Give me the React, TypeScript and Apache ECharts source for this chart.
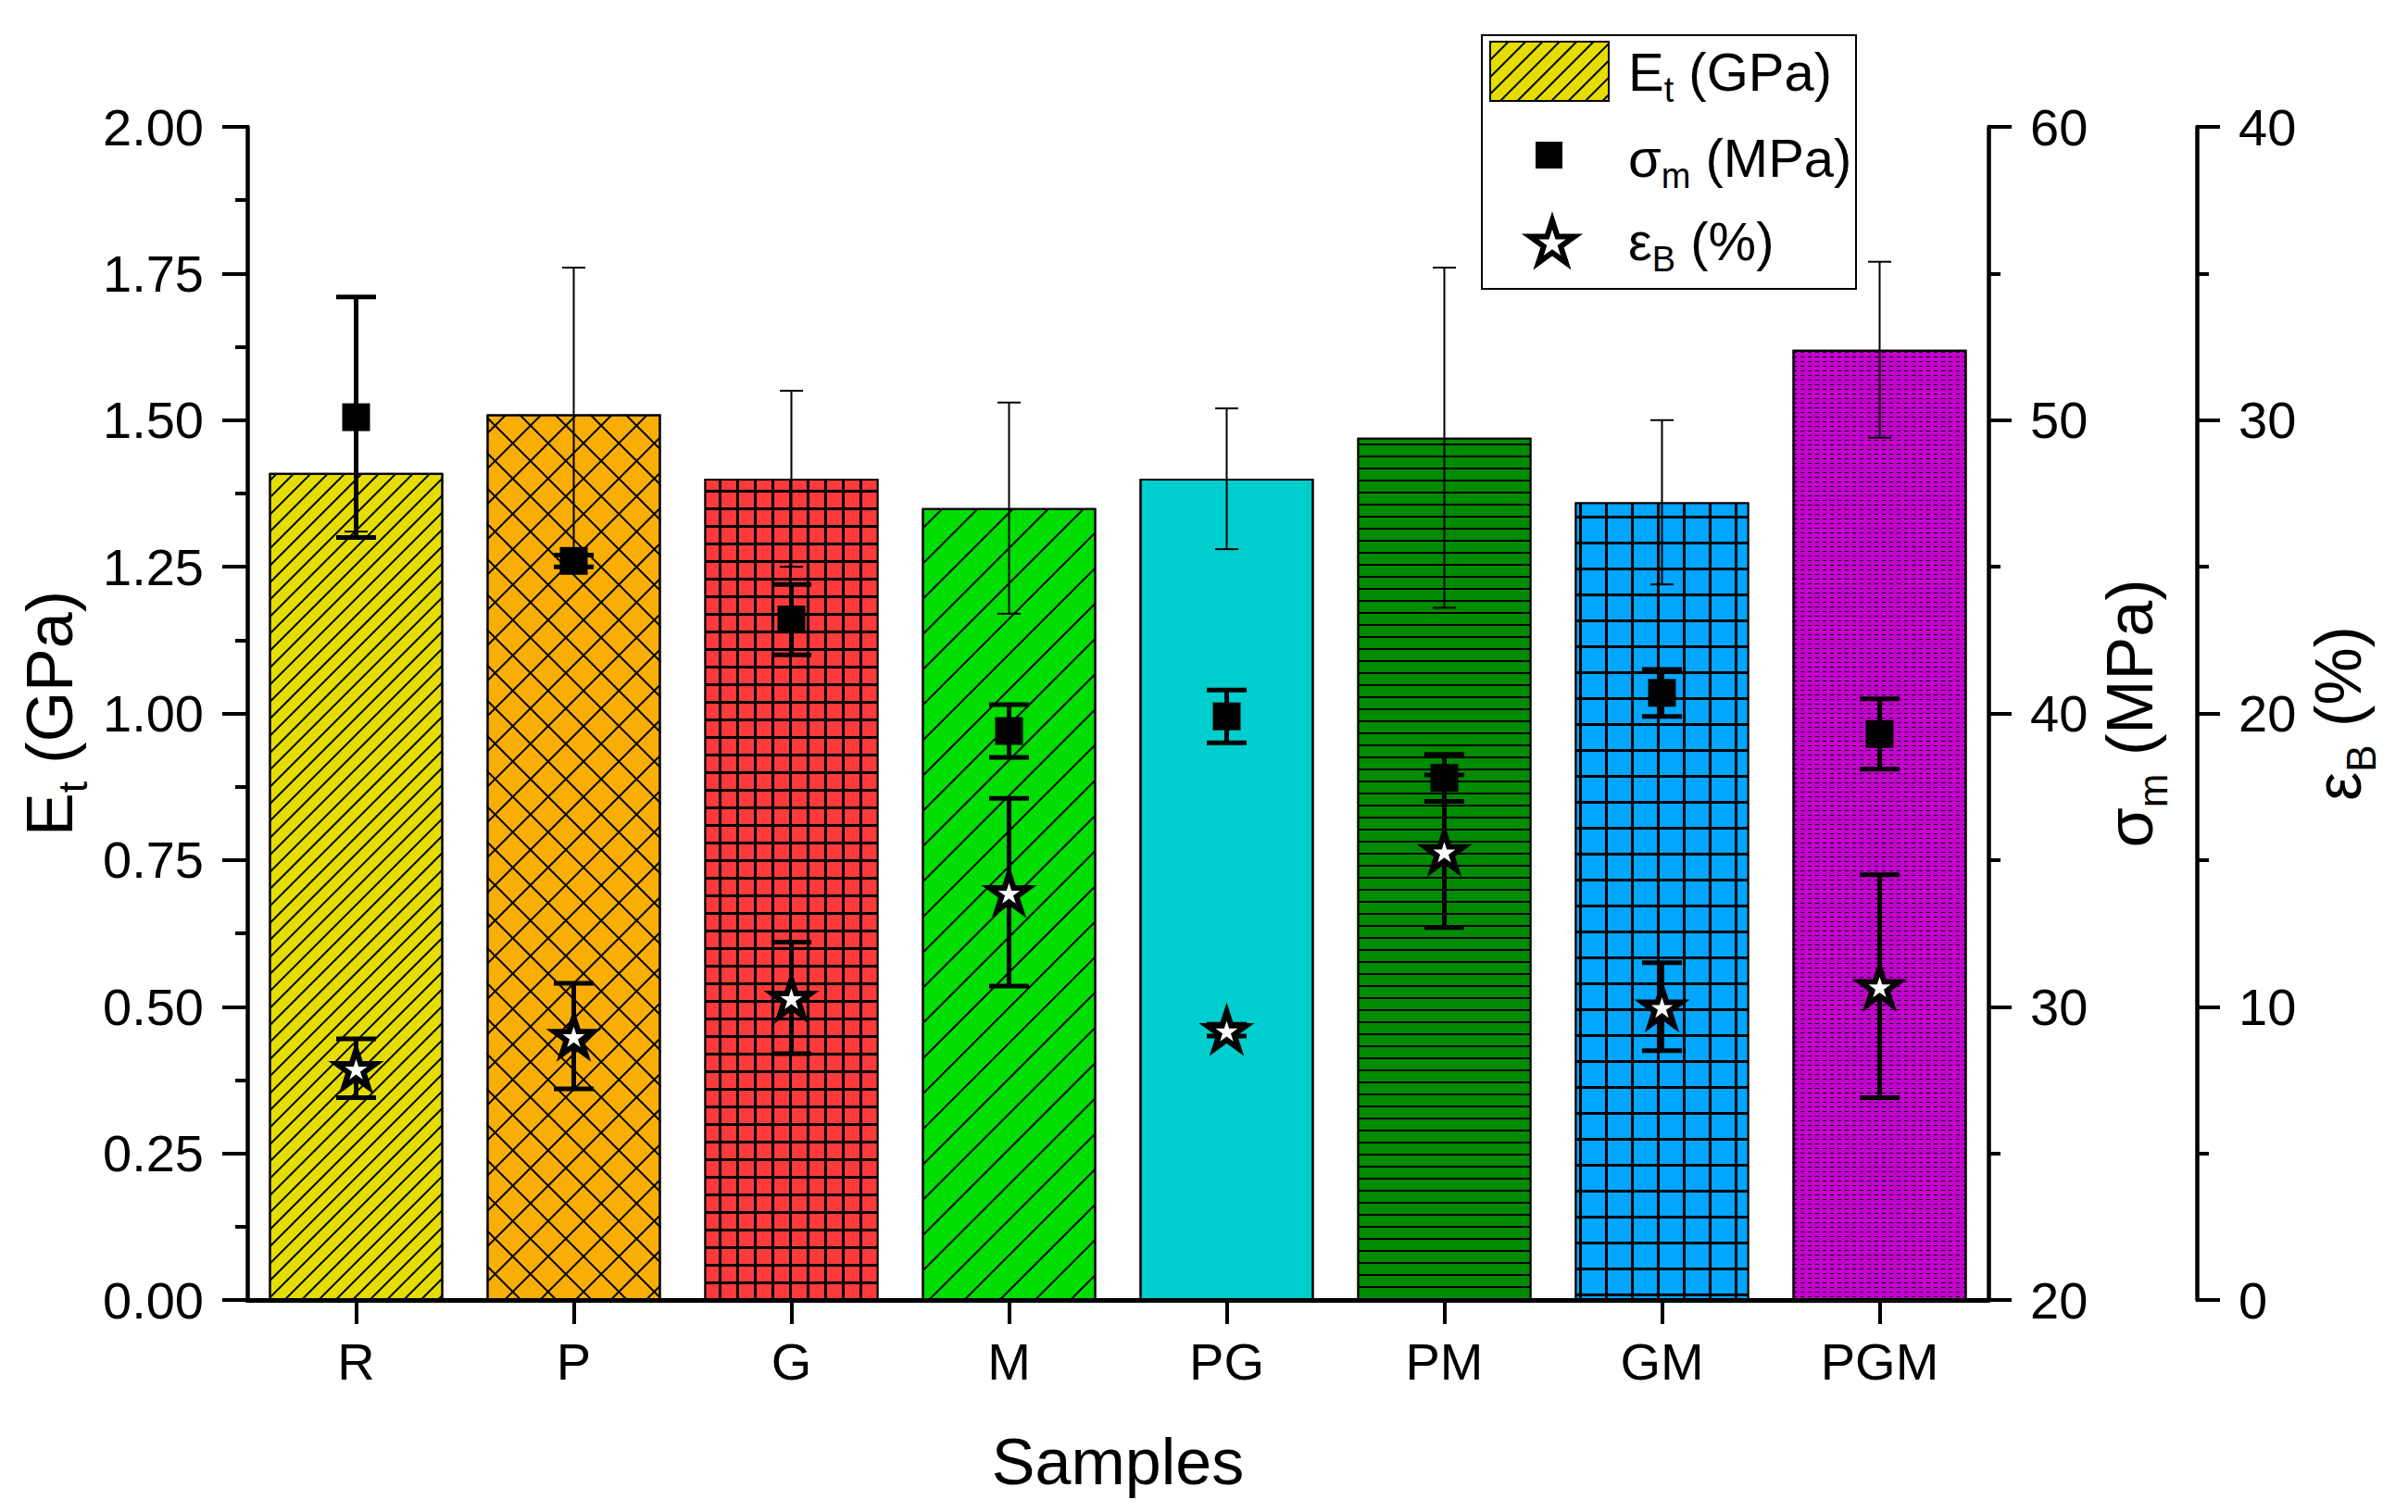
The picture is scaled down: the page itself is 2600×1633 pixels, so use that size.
import React, { useEffect, useRef } from 'react';
import * as echarts from 'echarts';

const samples = ['R', 'P', 'G', 'M', 'PG', 'PM', 'GM', 'PGM'];
const etVal = [1.41, 1.51, 1.40, 1.35, 1.40, 1.47, 1.36, 1.62];
const etErr = [0.10, 0.25, 0.15, 0.18, 0.12, 0.29, 0.14, 0.15];
const sigVal = [50.1, 45.2, 43.2, 39.4, 39.9, 37.8, 40.7, 39.3];
const sigErr = [4.1, 0.2, 1.2, 0.9, 0.9, 0.8, 0.8, 1.2];
const epsVal = [7.9, 9.0, 10.3, 13.9, 9.2, 15.3, 10.0, 10.7];
const epsErr = [1.0, 1.8, 1.9, 3.2, 0.2, 2.6, 1.5, 3.8];

const seriesNames = ['Et (GPa)', 'σm (MPa)', 'εB (%)'];
const richNames: Record<string, string> = {
  'Et (GPa)': '{a|E}{s|t}{a| (GPa)}',
  'σm (MPa)': '{a|σ}{s|m}{a| (MPa)}',
  'εB (%)': '{a|ε}{s|B}{a| (%)}',
};

const FONT = 'Liberation Sans, Arial, sans-serif';
const ROT = -Math.PI / 4;
const STAR = 'path://M50,0L61.2,34.5L97.6,34.5L68.2,55.9L79.4,90.5L50,69.1L20.6,90.5L31.8,55.9L2.4,34.5L38.8,34.5Z';

const hatch = (gap: number, rot: number) => ({
  symbol: 'rect', symbolSize: 1, dashArrayX: [1, 0], dashArrayY: [2, gap], rotation: rot, color: '#000',
});

const barStyles: any[] = [
  { color: '#E5DD00', decal: hatch(10.5, ROT) },
  { color: '#F9AE06', decal: hatch(25, ROT) },
  { color: '#000', decal: { symbol: 'rect', symbolSize: 1, dashArrayX: [16, 2.2], dashArrayY: [16, 2.2], color: '#FF3A3A' } },
  { color: '#00DD00', decal: hatch(25, ROT) },
  { color: '#00CDCD', decal: { symbol: 'rect', symbolSize: 1, dashArrayX: [1, 0], dashArrayY: [1, 0], color: 'rgba(0,0,0,0)' } },
  { color: '#000', decal: { symbol: 'rect', symbolSize: 1, dashArrayX: [1, 0], dashArrayY: [10.8, 2], color: '#008B00' } },
  { color: '#000', decal: { symbol: 'rect', symbolSize: 1, dashArrayX: [24.5, 2.6], dashArrayY: [24.5, 2.6], color: '#00A6FF' } },
  { color: '#C400CE', decal: { symbol: 'rect', symbolSize: 1, dashArrayX: [4, 4], dashArrayY: [1, 3.5], color: '#000' } },
];
const crossIdx = [1];

const errSeries = (name: string, vals: number[], errs: number[], yIdx: number, lw: number, cap: number, z: number) => ({
  type: 'custom',
  name,
  yAxisIndex: yIdx,
  z,
  silent: true,
  data: vals.map((v, i) => [i, v - errs[i], v + errs[i]]),
  encode: { x: 0, y: [1, 2] },
  renderItem: (params: any, api: any) => {
    const lo = api.coord([api.value(0), api.value(1)]);
    const hi = api.coord([api.value(0), api.value(2)]);
    const h = cap / 2;
    const st = { stroke: '#000', lineWidth: lw };
    return {
      type: 'group',
      children: [
        { type: 'line', shape: { x1: lo[0], y1: lo[1], x2: hi[0], y2: hi[1] }, style: st },
        { type: 'line', shape: { x1: lo[0] - h, y1: lo[1], x2: lo[0] + h, y2: lo[1] }, style: st },
        { type: 'line', shape: { x1: hi[0] - h, y1: hi[1], x2: hi[0] + h, y2: hi[1] }, style: st },
      ],
    };
  },
});

const legendRich = {
  a: { fontSize: 58, lineHeight: 60, verticalAlign: 'middle', fill: '#000', fontFamily: FONT },
  s: { fontSize: 38, height: 20, lineHeight: 20, verticalAlign: 'bottom', fill: '#000', fontFamily: FONT },
};
const nameRich = {
  a: { fontSize: 70, lineHeight: 72, verticalAlign: 'middle', color: '#000', fontFamily: FONT },
  s: { fontSize: 44, height: 24, lineHeight: 24, verticalAlign: 'bottom', color: '#000', fontFamily: FONT },
};

const axisCommon = (tickLen: number) => ({
  type: 'value',
  axisLine: { show: true, lineStyle: { color: '#000', width: 4.5 } },
  axisTick: { show: true, length: tickLen, lineStyle: { color: '#000', width: 4 } },
  minorTick: { show: true, splitNumber: 2, length: 13, lineStyle: { color: '#000', width: 4 } },
  splitLine: { show: false },
  minorSplitLine: { show: false },
  nameLocation: 'middle',
  nameRotate: 90,
  nameTextStyle: { rich: nameRich },
});

export default function App() {
  const ref = useRef<HTMLDivElement>(null);
  useEffect(() => {
    if (!ref.current) return;
    const chart = echarts.init(ref.current, null, { renderer: 'svg' });
    const legendBase = {
      padding: 0, selectedMode: false, orient: 'vertical',
      formatter: () => '',
      textStyle: { fontSize: 1, color: 'rgba(0,0,0,0)' },
    };
    const legendTextY = [77, 170, 260];
    const option: any = {
      animation: false,
      backgroundColor: '#fff',
      textStyle: { fontFamily: FONT, color: '#000' },
      grid: { left: 267, right: 453, top: 137, bottom: 229, containLabel: false },
      legend: [
        { ...legendBase, left: 1608, top: 44, itemWidth: 128, itemHeight: 64, data: [{ name: seriesNames[0], icon: 'rect' }], itemStyle: { borderWidth: 2, borderColor: '#000' } },
        { ...legendBase, left: 1658, top: 153, itemWidth: 29, itemHeight: 29, data: [{ name: seriesNames[1], icon: 'rect' }], itemStyle: { borderWidth: 0 } },
        { ...legendBase, left: 1649, top: 235, itemWidth: 48, itemHeight: 46, data: [{ name: seriesNames[2], icon: STAR }], itemStyle: { borderWidth: 6, borderColor: '#000', color: '#fff' } },
      ],
      graphic: [
        { type: 'rect', left: 1599, top: 37, z: 0, shape: { width: 404, height: 274 }, style: { fill: 'rgba(0,0,0,0)', stroke: '#000', lineWidth: 2 } },
        ...seriesNames.map((n, i) => ({
          type: 'text', x: 1758, y: legendTextY[i], z: 10,
          style: { text: richNames[n], rich: legendRich, verticalAlign: 'middle', align: 'left', fill: '#000', fontFamily: FONT, fontSize: 58 },
        })),
      ],
      xAxis: {
        type: 'category',
        data: samples,
        axisLine: { onZero: false, lineStyle: { color: '#000', width: 5 } },
        axisTick: { show: true, alignWithLabel: true, length: 26, lineStyle: { color: '#000', width: 4 } },
        axisLabel: { fontSize: 56, color: '#000', margin: 38, fontFamily: FONT },
        name: 'Samples',
        nameLocation: 'middle',
        nameGap: 140,
        nameTextStyle: { fontSize: 70, color: '#000', fontFamily: FONT },
      },
      yAxis: [
        {
          ...axisCommon(27), position: 'left', min: 0, max: 2, interval: 0.25,
          axisLabel: { fontSize: 56, color: '#000', margin: 47, fontFamily: FONT, formatter: (v: number) => v.toFixed(2) },
          name: richNames[seriesNames[0]], nameGap: 176,
        },
        {
          ...axisCommon(25), position: 'right', min: 20, max: 60, interval: 10,
          axisLabel: { fontSize: 56, color: '#000', margin: 45, fontFamily: FONT },
          name: richNames[seriesNames[1]], nameGap: 87,
        },
        {
          ...axisCommon(25), position: 'right', offset: 225, min: 0, max: 40, interval: 10,
          axisLabel: { fontSize: 56, color: '#000', margin: 45, fontFamily: FONT },
          name: richNames[seriesNames[2]], nameGap: 108,
        },
      ],
      series: [
        {
          type: 'bar', name: seriesNames[0], yAxisIndex: 0, z: 2, barCategoryGap: '20%', barGap: '-100%',
          itemStyle: { color: barStyles[0].color, decal: barStyles[0].decal, borderColor: '#000', borderWidth: 2 },
          data: etVal.map((v, i) => ({ value: v, itemStyle: { color: barStyles[i].color, decal: barStyles[i].decal } })),
        },
        {
          type: 'bar', name: 'cross', yAxisIndex: 0, z: 2, barCategoryGap: '20%', barGap: '-100%', silent: true,
          itemStyle: { color: 'rgba(0,0,0,0)', borderWidth: 0, decal: hatch(25, -ROT) },
          data: etVal.map((v, i) => (crossIdx.includes(i) ? v : '-')),
        },
        errSeries('etErr', etVal, etErr, 0, 2, 25, 3),
        errSeries('sigErr', sigVal, sigErr, 1, 5, 43, 4),
        {
          type: 'scatter', name: seriesNames[1], yAxisIndex: 1, z: 5, symbol: 'rect', symbolSize: 30,
          itemStyle: { color: '#000', opacity: 1 },
          data: sigVal.map((v, i) => [i, v]),
        },
        errSeries('epsErr', epsVal, epsErr, 2, 5, 43, 6),
        {
          type: 'scatter', name: seriesNames[2], yAxisIndex: 2, z: 7, symbol: STAR, symbolSize: [42, 40],
          itemStyle: { color: '#fff', borderColor: '#000', borderWidth: 6, opacity: 1 },
          data: epsVal.map((v, i) => [i, v]),
        },
      ],
    };
    chart.setOption(option);
    return () => chart.dispose();
  }, []);
  return <div ref={ref} style={{ position: 'absolute', left: 0, top: 0, width: 2600, height: 1633 }} />;
}
